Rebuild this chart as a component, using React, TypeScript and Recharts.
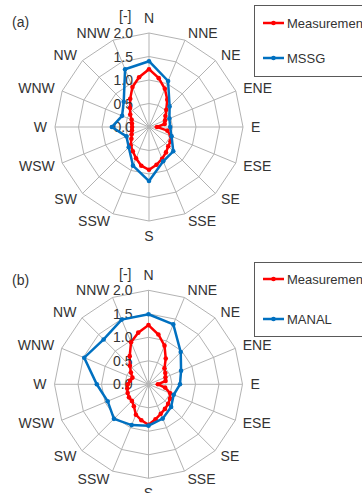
import React from "react";
import {
  RadarChart,
  Radar,
  PolarGrid,
  PolarAngleAxis,
  PolarRadiusAxis,
  Legend,
} from "recharts";

// compass names every 22.5 deg
const directions = [
  "N", "NNE", "NE", "ENE", "E", "ESE", "SE", "SSE",
  "S", "SSW", "SW", "WSW", "W", "WNW", "NW", "NNW",
];

// measurement bearings, every 11.25 deg
const bearings = [
  0, 11.25, 22.5, 33.75, 45, 56.25, 67.5, 78.75,
  90, 101.25, 112.5, 123.75, 135, 146.25, 157.5, 168.75,
  180, 191.25, 202.5, 213.75, 225, 236.25, 247.5, 258.75,
  270, 281.25, 292.5, 303.75, 315, 326.25, 337.5, 348.75,
];

const radiusTicks = [0, 0.5, 1, 1.5, 2];

// (a)
const measA = [
  1.23, 1.06, 0.88, 0.7, 0.52, 0.42, 0.37, 0.34,
  0.17, 0.4, 0.5, 0.55, 0.58, 0.65, 0.73, 0.82,
  0.91, 0.84, 0.72, 0.62, 0.55, 0.45, 0.4, 0.37,
  0.36, 0.37, 0.4, 0.48, 0.57, 0.72, 0.92, 1.08,
];
const mssg = [
  1.4, 1.06, 0.62, 0.47, 0.45, 0.52, 0.73, 0.79,
  1.15, 0.89, 0.61, 0.52, 0.79, 0.62, 0.76, 1.33,
];

// (b)
const measB = [
  1.26, 1.08, 0.89, 0.66, 0.48, 0.43, 0.39, 0.37,
  0.2, 0.36, 0.5, 0.55, 0.59, 0.63, 0.68, 0.76,
  0.86, 0.78, 0.7, 0.56, 0.5, 0.5, 0.48, 0.46,
  0.44, 0.4, 0.37, 0.45, 0.56, 0.72, 0.97, 1.12,
];
const manal = [
  1.49, 1.38, 0.97, 0.75, 0.67, 0.58, 0.68, 0.79,
  0.88, 0.94, 1.04, 0.94, 1.1, 1.48, 1.35, 1.49,
];

const RED = "#ff0000";
const BLUE = "#0070c0";
const FONT = "'Liberation Sans', Arial, sans-serif";
const TEXT = "#333333";
const R = 94;

function labelFor(b: number) {
  const k = b / 22.5;
  return Number.isInteger(k) ? directions[k] : "";
}

function makeDirTick(cx: number, cy: number) {
  return (props: any) => {
    const { payload, index } = props;
    const label = labelFor(payload.value);
    if (!label) return <g key={`t-${index}`} />;
    const a = (payload.coordinate * Math.PI) / 180;
    const ux = Math.cos(a);
    const uy = -Math.sin(a);
    const px = cx + ux * (R + 8);
    const py = cy + uy * (R + 8);
    const vertical = Math.abs(ux) < 0.1;
    const anchor = vertical ? "middle" : ux > 0 ? "start" : "end";
    return (
      <text
        key={`t-${index}`}
        x={px}
        y={py + 5 + (vertical ? uy * 7 : 0)}
        textAnchor={anchor}
        fontSize={14}
        fontFamily={FONT}
        fill={TEXT}
      >
        {label}
      </text>
    );
  };
}

const radiusTick = (props: any) => (
  <text
    key={`r-${props.index}`}
    x={props.x - 16}
    y={props.y + 5}
    textAnchor="end"
    fontSize={14}
    fontFamily={FONT}
    fill={TEXT}
  >
    {Number(props.payload.value).toFixed(1)}
  </text>
);

const makeDot = (color: string) => (p: any) => (
  <circle key={`d-${p.index}`} cx={p.cx} cy={p.cy} r={2.3} fill={color} stroke="none" />
);

function makeLegend(names: string[], height: number, rows: number[]) {
  const colors = [RED, BLUE];
  return () => (
    <div
      style={{
        position: "relative",
        width: 130,
        height,
        border: "1px solid #595959",
        background: "#fff",
        fontFamily: FONT,
        fontSize: 13,
        color: TEXT,
      }}
    >
      {names.map((name, i) => (
        <div
          key={name}
          style={{
            position: "absolute",
            left: 0,
            top: rows[i] - 8,
            height: 16,
            display: "flex",
            alignItems: "center",
            whiteSpace: "nowrap",
          }}
        >
          <svg width={32} height={16}>
            <line x1={8} y1={8} x2={29} y2={8} stroke={colors[i]} strokeWidth={2.5} />
            <circle cx={18.5} cy={8} r={2.3} fill={colors[i]} />
          </svg>
          <span>{name}</span>
        </div>
      ))}
    </div>
  );
}

function Rose(props: {
  meas: number[];
  model: number[];
  modelName: string;
  cx: number;
  cy: number;
  height: number;
  legendTop: number;
  legendHeight: number;
  legendRows: number[];
}) {
  const { cx, cy, height } = props;
  const measRows = bearings.map((b, i) => ({ bearing: b, meas: props.meas[i] }));
  const modelRows = directions.map((d, i) => ({ dir: d, model: props.model[i] }));
  const common = {
    width: 362,
    height,
    cx,
    cy,
    outerRadius: R,
    startAngle: 90,
    endAngle: -270,
    margin: { top: 0, right: 0, bottom: 0, left: 0 },
  };
  return (
    <div style={{ position: "relative", width: 362, height }}>
      <div style={{ position: "absolute", left: 0, top: 0 }}>
        <RadarChart {...common} data={measRows}>
          <PolarGrid
            gridType="polygon"
            stroke="#b3b3b3"
            strokeWidth={1}
            polarAngles={directions.map((_, k) => 90 - k * 22.5)}
          />
          <PolarAngleAxis
            dataKey="bearing"
            axisLine={false}
            tickLine={false}
            tick={makeDirTick(cx, cy)}
          />
          <PolarRadiusAxis
            angle={90}
            domain={[0, 2]}
            ticks={radiusTicks as any}
            tickCount={5}
            axisLine={false}
            tickLine={false}
            tick={radiusTick}
          />
          <Radar
            name="Measurement"
            dataKey="meas"
            stroke={RED}
            strokeWidth={2.5}
            fill="none"
            fillOpacity={0}
            dot={makeDot(RED)}
            isAnimationActive={false}
          />
        </RadarChart>
      </div>
      <div style={{ position: "absolute", left: 0, top: 0 }}>
        <RadarChart {...common} data={modelRows}>
          <PolarAngleAxis dataKey="dir" axisLine={false} tickLine={false} tick={false} />
          <PolarRadiusAxis
            angle={90}
            domain={[0, 2]}
            tickCount={5}
            axisLine={false}
            tickLine={false}
            tick={false}
          />
          <Radar
            name={props.modelName}
            dataKey="model"
            stroke={BLUE}
            strokeWidth={2.5}
            fill="none"
            fillOpacity={0}
            dot={makeDot(BLUE)}
            isAnimationActive={false}
          />
          <Legend
            content={makeLegend(["Measurement", props.modelName], props.legendHeight, props.legendRows)}
            wrapperStyle={{ left: 254, top: props.legendTop, width: 130, right: "auto", bottom: "auto" }}
          />
        </RadarChart>
      </div>
    </div>
  );
}

const tag = (text: string, left: number, top: number) => (
  <div
    style={{
      position: "absolute",
      left,
      top,
      fontFamily: FONT,
      fontSize: 14,
      color: TEXT,
      lineHeight: "16px",
      whiteSpace: "nowrap",
    }}
  >
    {text}
  </div>
);

export default function App() {
  return (
    <div
      style={{
        position: "absolute",
        left: 0,
        top: 0,
        width: 362,
        height: 493,
        overflow: "hidden",
        background: "#fff",
      }}
    >
      <div style={{ position: "absolute", left: 0, top: 0 }}>
        <Rose
          meas={measA}
          model={mssg}
          modelName="MSSG"
          cx={149}
          cy={127}
          height={246}
          legendTop={5}
          legendHeight={70}
          legendRows={[17, 52]}
        />
      </div>
      <div style={{ position: "absolute", left: 0, top: 246 }}>
        <Rose
          meas={measB}
          model={manal}
          modelName="MANAL"
          cx={148.5}
          cy={138.3}
          height={247}
          legendTop={16}
          legendHeight={73}
          legendRows={[16, 56]}
        />
      </div>
      {tag("(a)", 12, 14)}
      {tag("[-]", 119, 8)}
      {tag("(b)", 12, 272)}
      {tag("[-]", 119, 266)}
    </div>
  );
}
